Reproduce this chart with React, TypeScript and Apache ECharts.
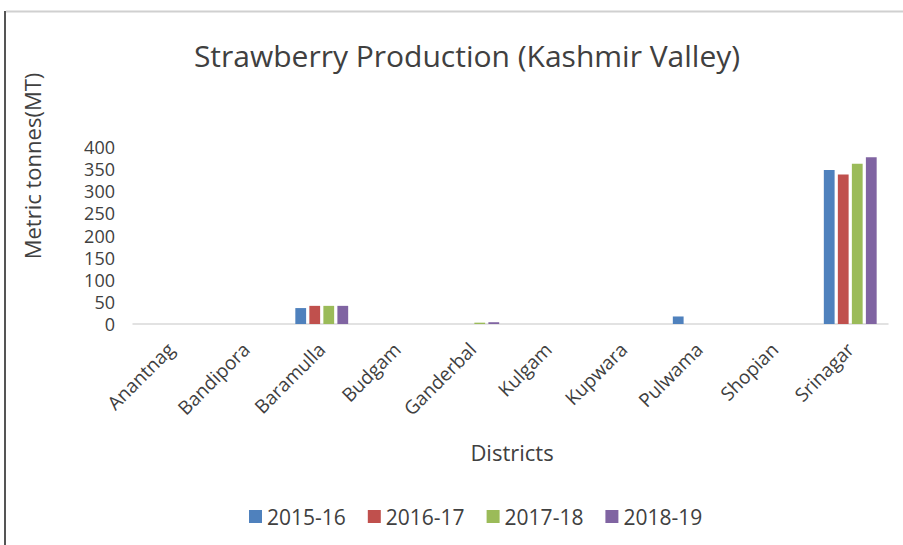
import React, { useEffect, useRef } from "react";
import * as echarts from "echarts";

const districts = ["Anantnag", "Bandipora", "Baramulla", "Budgam", "Ganderbal", "Kulgam", "Kupwara", "Pulwama", "Shopian", "Srinagar"];
const years = ["2015-16", "2016-17", "2017-18", "2018-19"];
const v2015 = [0, 0, 36, 0, 0, 0, 0, 17, 0, 348];
const v2016 = [0, 0, 41, 0, 0, 0, 0, 0, 0, 338];
const v2017 = [0, 0, 41, 0, 3, 0, 0, 0, 0, 362];
const v2018 = [0, 0, 41, 0, 4, 0, 0, 0, 0, 377];
const colors = ["#4F81BD", "#C0504D", "#9BBB59", "#8064A2"];
const yTicks = [0, 50, 100, 150, 200, 250, 300, 350, 400];

export default function App() {
  const ref = useRef<HTMLDivElement>(null);
  useEffect(() => {
    if (!ref.current) return;
    const chart = echarts.init(ref.current, null, { renderer: "svg" });
    const font = "'Open Sans', 'Liberation Sans', sans-serif";
    const seriesVals = [v2015, v2016, v2017, v2018];
    chart.setOption({
      animation: false,
      backgroundColor: "#ffffff",
      textStyle: { fontFamily: font },
      title: {
        text: "Strawberry Production (Kashmir Valley)",
        left: 462,
        top: 35,
        textAlign: "center",
        textStyle: { fontFamily: font, fontSize: 30, fontWeight: "normal", color: "#404040" },
      },
      legend: {
        bottom: 13,
        left: 244,
        itemWidth: 13,
        itemHeight: 13,
        itemGap: 22,
        icon: "rect",
        textStyle: { fontFamily: font, fontSize: 21, color: "#404040" },
        data: years,
      },
      grid: { left: 133, right: 15, top: 147, bottom: 221, containLabel: false },
      xAxis: {
        type: "category",
        data: districts,
        axisLine: { lineStyle: { color: "#d9d9d9", width: 1.5 } },
        axisTick: { show: false },
        axisLabel: { rotate: 45, fontSize: 19, color: "#404040", fontFamily: font, margin: 22 },
      },
      yAxis: {
        type: "value",
        min: 0,
        max: 400,
        interval: 50,
        axisLine: { show: false },
        axisTick: { show: false },
        splitLine: { show: false },
        axisLabel: {
          fontSize: 18,
          lineHeight: 20,
          color: "#404040",
          fontFamily: font,
          margin: 18,
          formatter: (v: number) => (yTicks.includes(v) ? String(v) : ""),
        },
      },
      graphic: [
        { type: "line", shape: { x1: 5, y1: 11, x2: 5, y2: 545 }, style: { stroke: "#555555", lineWidth: 2 } },
        { type: "line", shape: { x1: 6, y1: 11.5, x2: 903, y2: 11.5 }, style: { stroke: "#d0d0d0", lineWidth: 2 } },
        {
          type: "text",
          x: 32,
          y: 166,
          rotation: Math.PI / 2,
          style: { text: "Metric tonnes(MT)", fontFamily: font, fontSize: 22, fill: "#404040", align: "center", verticalAlign: "middle" },
        },
        {
          type: "text",
          x: 512,
          y: 452,
          style: { text: "Districts", fontFamily: font, fontSize: 22, fill: "#404040", align: "center", verticalAlign: "middle" },
        },
      ],
      series: years.map((y, i) => ({
        name: y,
        type: "bar",
        data: seriesVals[i],
        itemStyle: { color: colors[i] },
        barGap: "30%",
        barCategoryGap: "30%",
      })),
    });
    return () => chart.dispose();
  }, []);
  return <div ref={ref} style={{ position: "fixed", left: 0, top: 0, width: 903, height: 545 }} />;
}
